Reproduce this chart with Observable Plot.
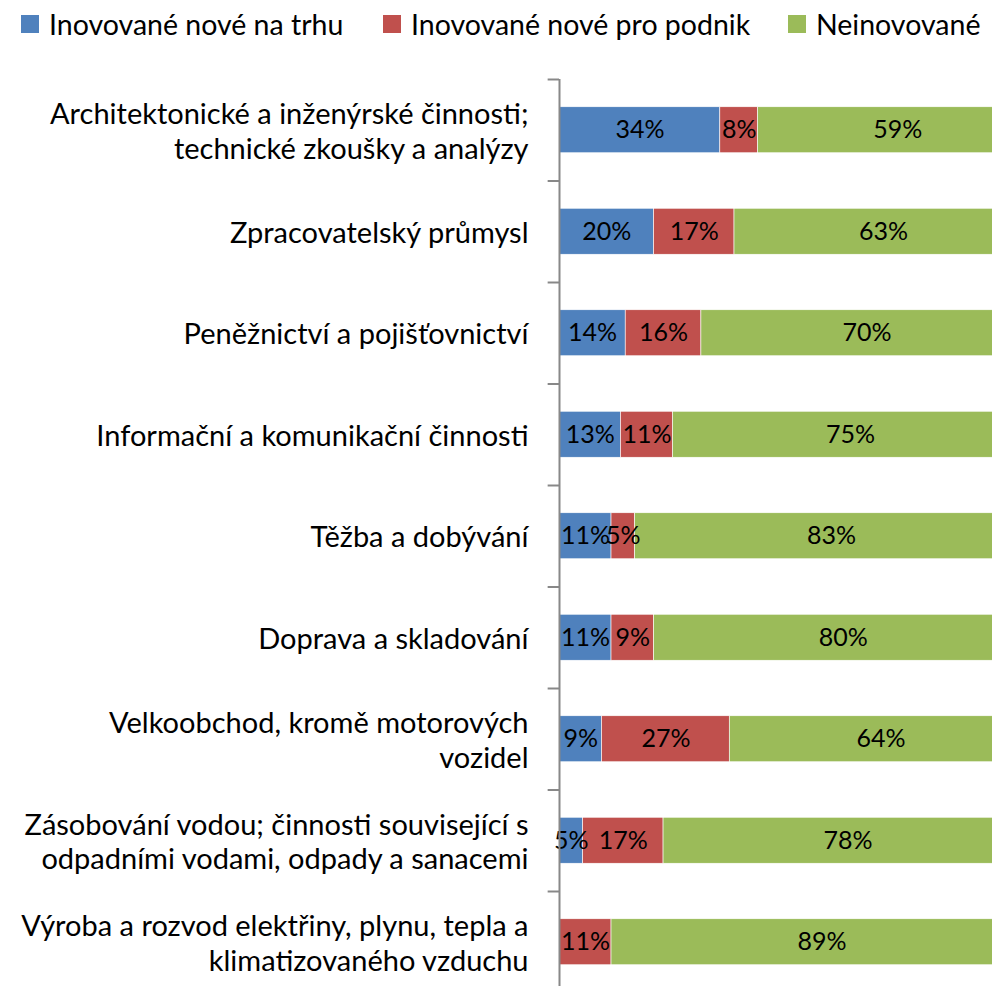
<!DOCTYPE html>
<html>
<head>
<meta charset="utf-8">
<script src="https://cdn.jsdelivr.net/npm/d3@7"></script>
<script src="https://cdn.jsdelivr.net/npm/@observablehq/plot@0.6"></script>
<style>
  html, body { margin: 0; padding: 0; background: #fff; overflow: hidden; width: 992px; height: 986px; }
  #legend { position: relative; height: 48px; font-family: Lato, sans-serif; font-size: 28.5px; line-height: 1; color: #000; white-space: nowrap; }
  .item { position: absolute; top: 0; height: 48px; display: flex; align-items: center; }
  .sw { width: 18px; height: 18px; margin-right: 10px; }
  #chart svg { display: block; max-width: none !important; overflow: hidden; }
</style>
</head>
<body>
<div id="legend"></div>
<div id="chart"></div>
<script>
const categories = [
  "Architektonické a inženýrské činnosti;\ntechnické zkoušky a analýzy",
  "Zpracovatelský průmysl",
  "Peněžnictví a pojišťovnictví",
  "Informační a komunikační činnosti",
  "Těžba a dobývání",
  "Doprava a skladování",
  "Velkoobchod, kromě motorových\nvozidel",
  "Zásobování vodou; činnosti související s\nodpadními vodami, odpady a sanacemi",
  "Výroba a rozvod elektřiny, plynu, tepla a\nklimatizovaného vzduchu"
];
const series = ["Inovované nové na trhu", "Inovované nové pro podnik", "Neinovované"];
const colors = ["#4F81BD", "#C0504D", "#9BBB59"];
const novelMarket = [34, 20, 14, 13, 11, 11, 9, 5, 0];
const novelFirm = [8, 17, 16, 11, 5, 9, 27, 17, 11];
const nonInnov = [59, 63, 70, 75, 83, 80, 64, 78, 89];

const values = [novelMarket, novelFirm, nonInnov];
const data = [];
categories.forEach((c, i) => {
  series.forEach((s, j) => data.push({cat: c, series: s, value: values[j][i]}));
});

// legend (HTML, above the SVG)
const legendLeft = [21, 383, 788];
const lg = document.getElementById("legend");
series.forEach((s, j) => {
  const it = document.createElement("div");
  it.className = "item";
  it.style.left = legendLeft[j] + "px";
  const sw = document.createElement("div");
  sw.className = "sw";
  sw.style.background = colors[j];
  const t = document.createElement("span");
  t.textContent = s;
  it.appendChild(sw); it.appendChild(t);
  lg.appendChild(it);
});

const step = 101.5;
const topMargin = 31;
const plot = Plot.plot({
  width: 1032,
  height: topMargin + step * categories.length,
  marginLeft: 559,
  marginRight: 0,
  marginTop: topMargin,
  marginBottom: 0,
  style: {fontFamily: "Lato, sans-serif", fontSize: "29px", color: "#000", background: "#fff", maxWidth: "none"},
  x: {domain: [0, 100], axis: null},
  y: {domain: categories, paddingInner: 0.547, paddingOuter: 0.2735, round: false, axis: null},
  color: {domain: series, range: colors},
  marks: [
    Plot.barX(data, Plot.stackX({x: "value", y: "cat", fill: "series", order: null, stroke: "#fff", strokeWidth: 0.6})),
    Plot.text(data, Plot.stackX({x: "value", y: "cat", text: d => d.value > 0 ? d.value + "%" : "", order: null, fill: "#000", fontSize: 25})),
    Plot.text(categories, {x: 0, y: d => d, text: d => d, textAnchor: "end", dx: -31, lineHeight: 1.2, fill: "#000", fontSize: 29}),
    Plot.ruleY(categories, {y: d => d, x1: -2.4, x2: 0, dy: -step / 2, stroke: "#888", strokeWidth: 2}),
    Plot.ruleX([0], {stroke: "#888", strokeWidth: 2})
  ]
});
document.getElementById("chart").appendChild(plot);
</script>
</body>
</html>
